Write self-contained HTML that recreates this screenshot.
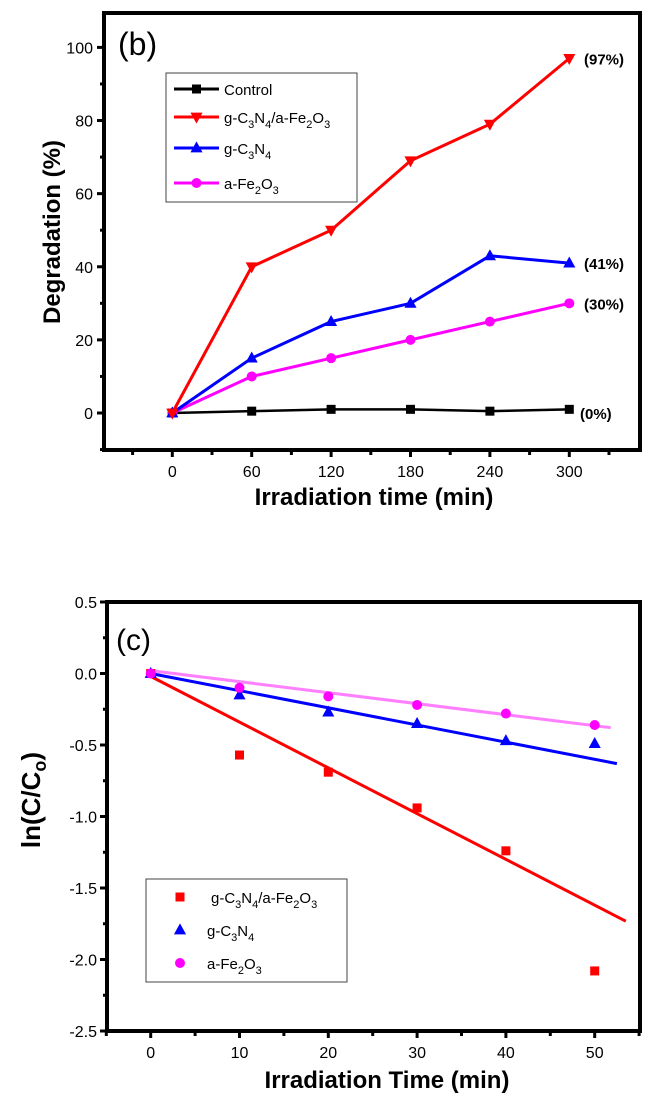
<!DOCTYPE html>
<html><head><meta charset="utf-8">
<style>
html,body{margin:0;padding:0;background:#fff;}
svg{display:block;font-family:"Liberation Sans",sans-serif;}
</style></head>
<body>
<svg id="fig" width="647" height="1111" viewBox="0 0 647 1111" xmlns="http://www.w3.org/2000/svg"></svg>
<script>
// ---- Chart (b) data ----
const bTimes = [0, 60, 120, 180, 240, 300];
const bControl = [0, 0.5, 1, 1, 0.5, 1];
const bComposite = [0, 40, 50, 69, 79, 97];
const bCN = [0, 15, 25, 30, 43, 41];
const bFe = [0, 10, 15, 20, 25, 30];
const bXTicks = [0, 60, 120, 180, 240, 300];
const bYTicks = [0, 20, 40, 60, 80, 100];
const bAnnot = ["(97%)", "(41%)", "(30%)", "(0%)"];
const bAnnotVals = [97, 41, 30, 0];

// ---- Chart (c) data ----
const cTimes = [0, 10, 20, 30, 40, 50];
const cComposite = [0, -0.57, -0.69, -0.94, -1.24, -2.08];
const cCN = [0, -0.15, -0.27, -0.35, -0.47, -0.49];
const cFe = [0, -0.10, -0.16, -0.22, -0.28, -0.36];
const cFitComposite = [-0.02, -0.0320, 53.5];
const cFitCN = [0.0, -0.0120, 52.5];
const cFitFe = [0.02, -0.0077, 51.8];
const cXTicks = [0, 10, 20, 30, 40, 50];
const cYTicks = [0.5, 0.0, -0.5, -1.0, -1.5, -2.0, -2.5];
const cYLabels = ["0.5", "0.0", "-0.5", "-1.0", "-1.5", "-2.0", "-2.5"];

const NS = "http://www.w3.org/2000/svg";
const svg = document.getElementById('fig');
function mk(tag, attrs, parent) {
  const e = document.createElementNS(NS, tag);
  for (const k in attrs) e.setAttribute(k, attrs[k]);
  (parent || svg).appendChild(e);
  return e;
}
function txt(s, attrs, parent) { const t = mk('text', attrs, parent); t.textContent = s; return t; }

function marker(g, type, x, y, color, s) {
  let e;
  if (type === 'square') e = mk('rect', {x: x - s, y: y - s, width: 2 * s, height: 2 * s, fill: color}, g);
  else if (type === 'circle') e = mk('circle', {cx: x, cy: y, r: s, fill: color}, g);
  else if (type === 'up') e = mk('polygon', {points: `${x},${y - s * 1.2} ${x - s * 1.1},${y + s * 0.8} ${x + s * 1.1},${y + s * 0.8}`, fill: color}, g);
  else e = mk('polygon', {points: `${x},${y + s * 1.2} ${x - s * 1.1},${y - s * 0.8} ${x + s * 1.1},${y - s * 0.8}`, fill: color}, g);
  return e;
}

function frame(g, L, R, T, B) {
  mk('rect', {x: L, y: T, width: R - L, height: B - T, fill: 'none', stroke: '#000', 'stroke-width': 4}, g);
}

// ================= Chart (b) =================
(function () {
  const L = 104, R = 640, T = 13, B = 450;
  const xs = v => 172.3 + (v / 60) * 79.4;
  const ys = v => 413 - (v / 100) * 365.6;
  const g = mk('g', {});
  
  
  frame(g, L, R, T, B);
  // y ticks
  for (let v = -10; v <= 110; v += 10) {
    const y = ys(v);
    if (y < T - 1 || y > B + 1) continue;
    const major = v % 20 === 0;
    mk('line', {x1: L - (major ? 7 : 4), x2: L, y1: y, y2: y, stroke: '#000', 'stroke-width': 3}, g);
  }
  bYTicks.forEach(v => {
    const t = txt(String(v), {x: L - 11, y: ys(v) + 6, 'text-anchor': 'end', 'font-size': 16, fill: '#000'}, g);
    
    
  });
  for (let v = -30; v <= 360; v += 30) {
    const x = xs(v);
    if (x < L - 1 || x > R + 1) continue;
    const major = v % 60 === 0;
    mk('line', {x1: x, x2: x, y1: B, y2: B + (major ? 7 : 5), stroke: '#000', 'stroke-width': 3}, g);
  }
  bXTicks.forEach(v => {
    const t = txt(String(v), {x: xs(v), y: B + 27, 'text-anchor': 'middle', 'font-size': 16, fill: '#000'}, g);
    
    
  });
  const xt = txt('Irradiation time (min)', {x: 374, y: 505, 'text-anchor': 'middle', 'font-size': 24, 'font-weight': 'bold', fill: '#000'}, g);
  
  
  const yt = txt('Degradation (%)', {x: 0, y: 0, 'text-anchor': 'middle', 'font-size': 24, 'font-weight': 'bold', fill: '#000', transform: 'translate(60,232) rotate(-90)'}, g);
  
  
  const pl = txt('(b)', {x: 118, y: 55, 'font-size': 32, fill: '#000'}, g);
  
  

  const series = [
    [bControl, '#000', 'square', 'control', 4.5, 2.5],
    [bFe, '#ff00ff', 'circle', 'fe2o3', 5, 3],
    [bCN, '#0000ff', 'up', 'g-c3n4', 5.5, 3],
    [bComposite, '#ff0000', 'down', 'composite', 5.5, 3]
  ];
  series.forEach(([vals, col, m, nm, s, w]) => {
    const pts = vals.map((v, i) => `${xs(bTimes[i])},${ys(v)}`).join(' ');
    const line = mk('polyline', {points: pts, fill: 'none', stroke: col, 'stroke-width': w}, g);
    
    
    vals.forEach((v, i) => {
      const e = marker(g, m, xs(bTimes[i]), ys(v), col, s);
      
      
    });
  });
  bAnnot.forEach((s, i) => {
    const t = txt(s, {x: bAnnotVals[i] === 0 ? 580 : 584, y: ys(bAnnotVals[i]) + 6, 'font-size': 15, 'font-weight': 'bold', fill: '#000'}, g);
    
    
  });
  // legend
  const lg = mk('g', {}, g);
  
  
  mk('rect', {x: 166, y: 73, width: 191, height: 129, fill: '#fff', stroke: '#444', 'stroke-width': 1}, lg);
  const ent = [
    ['#000', 'square', 89, 'Control', null, 4.5],
    ['#ff0000', 'down', 117, 'g-C<tspan font-size="11" dy="5">3</tspan><tspan dy="-5">N</tspan><tspan font-size="11" dy="5">4</tspan><tspan dy="-5">/a-Fe</tspan><tspan font-size="11" dy="5">2</tspan><tspan dy="-5">O</tspan><tspan font-size="11" dy="5">3</tspan>', 1, 5.5],
    ['#0000ff', 'up', 148, 'g-C<tspan font-size="11" dy="5">3</tspan><tspan dy="-5">N</tspan><tspan font-size="11" dy="5">4</tspan>', 1, 5.5],
    ['#ff00ff', 'circle', 183, 'a-Fe<tspan font-size="11" dy="5">2</tspan><tspan dy="-5">O</tspan><tspan font-size="11" dy="5">3</tspan>', 1, 5]
  ];
  ent.forEach(([col, m, y, label, html, s]) => {
    const eg = mk('g', {}, lg);
    
    
    mk('line', {x1: 174, x2: 219, y1: y, y2: y, stroke: col, 'stroke-width': 3}, eg);
    marker(eg, m, 196.5, y, col, s);
    const t = mk('text', {x: 224, y: y + 6, 'font-size': 15, fill: '#000'}, eg);
    t.innerHTML = label;
  });
})();

// ================= Chart (c) =================
(function () {
  const L = 107, R = 640, T = 602, B = 1031;
  const xs = v => 150.7 + (v / 10) * 88.8;
  const ys = v => 602 + (0.5 - v) / 0.5 * 71.5;
  const g = mk('g', {});
  
  
  frame(g, L, R, T, B);
  for (let k = 0; k <= 12; k++) {
    const v = 0.5 - k * 0.25;
    const major = k % 2 === 0;
    mk('line', {x1: L - (major ? 7 : 4), x2: L, y1: ys(v), y2: ys(v), stroke: '#000', 'stroke-width': 3}, g);
  }
  cYTicks.forEach((v, i) => {
    const t = txt(cYLabels[i], {x: L - 10, y: ys(v) + 6, 'text-anchor': 'end', 'font-size': 16, fill: '#000'}, g);
    
    
  });
  for (let v = -5; v <= 55; v += 5) {
    const x = xs(v);
    const major = v % 10 === 0;
    mk('line', {x1: x, x2: x, y1: B, y2: B + (major ? 7 : 5), stroke: '#000', 'stroke-width': 3}, g);
  }
  cXTicks.forEach(v => {
    const t = txt(String(v), {x: xs(v), y: B + 27, 'text-anchor': 'middle', 'font-size': 16, fill: '#000'}, g);
    
    
  });
  const xt = txt('Irradiation Time (min)', {x: 387, y: 1088, 'text-anchor': 'middle', 'font-size': 24, 'font-weight': 'bold', fill: '#000'}, g);
  
  
  const yt = mk('text', {x: 0, y: 0, 'text-anchor': 'middle', 'font-size': 26, 'font-weight': 'bold', fill: '#000', transform: 'translate(40,800) rotate(-90)'}, g);
  yt.innerHTML = 'ln(C/C<tspan font-size="18" dy="6">o</tspan><tspan dy="-6">)</tspan>';
  
  
  const pl = txt('(c)', {x: 116, y: 650, 'font-size': 30, fill: '#000'}, g);
  
  

  const fits = [
    [cFitFe, '#ff80ff', 'fit-fe2o3'],
    [cFitCN, '#0000ff', 'fit-g-c3n4'],
    [cFitComposite, '#ff0000', 'fit-composite']
  ];
  fits.forEach(([f, col, nm]) => {
    const l = mk('line', {x1: xs(0), y1: ys(f[0]), x2: xs(f[2]), y2: ys(f[0] + f[1] * f[2]), stroke: col, 'stroke-width': 3}, g);
    
    
  });
  const pts = [
    [cComposite, '#ff0000', 'square', 'composite', 4.5],
    [cCN, '#0000ff', 'up', 'g-c3n4', 5.5],
    [cFe, '#ff00ff', 'circle', 'fe2o3', 5]
  ];
  pts.forEach(([vals, col, m, nm, s]) => {
    vals.forEach((v, i) => {
      const e = marker(g, m, xs(cTimes[i]), ys(v), col, s);
      
      
    });
  });
  const lg = mk('g', {}, g);
  
  
  mk('rect', {x: 146, y: 879, width: 201, height: 103, fill: '#fff', stroke: '#444', 'stroke-width': 1}, lg);
  const ent = [
    ['#ff0000', 'square', 897, 211, 'g-C<tspan font-size="11" dy="5">3</tspan><tspan dy="-5">N</tspan><tspan font-size="11" dy="5">4</tspan><tspan dy="-5">/a-Fe</tspan><tspan font-size="11" dy="5">2</tspan><tspan dy="-5">O</tspan><tspan font-size="11" dy="5">3</tspan>', 4.5],
    ['#0000ff', 'up', 930, 207, 'g-C<tspan font-size="11" dy="5">3</tspan><tspan dy="-5">N</tspan><tspan font-size="11" dy="5">4</tspan>', 5.5],
    ['#ff00ff', 'circle', 963, 207, 'a-Fe<tspan font-size="11" dy="5">2</tspan><tspan dy="-5">O</tspan><tspan font-size="11" dy="5">3</tspan>', 5]
  ];
  ent.forEach(([col, m, y, tx, label, s]) => {
    const eg = mk('g', {}, lg);
    
    
    marker(eg, m, 180, y, col, s);
    const t = mk('text', {x: tx, y: y + 6, 'font-size': 15, fill: '#000'}, eg);
    t.innerHTML = label;
  });
})();
</script>
</body></html>
